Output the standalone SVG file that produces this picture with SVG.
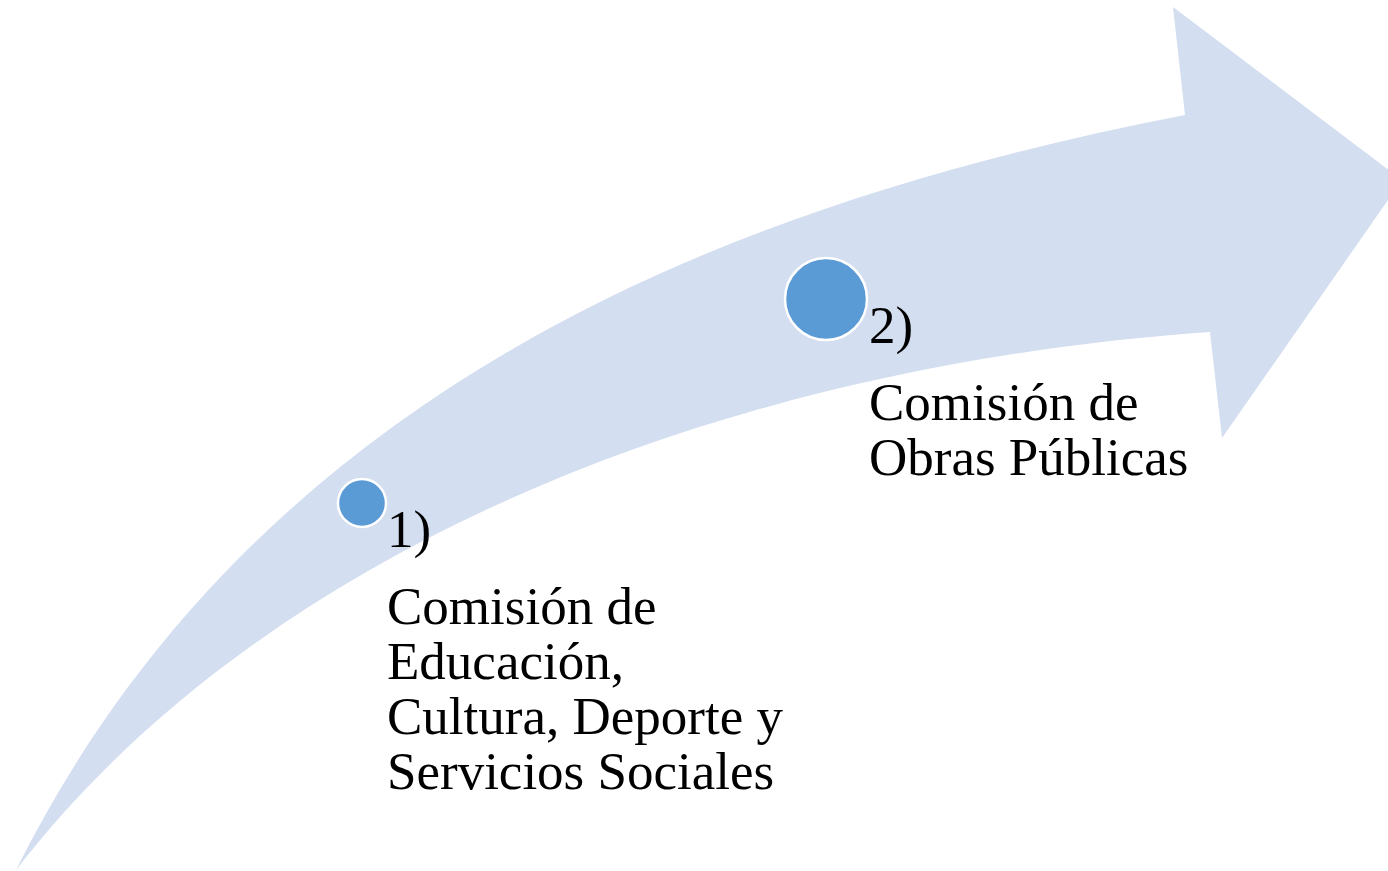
<svg xmlns="http://www.w3.org/2000/svg" width="1388" height="871" viewBox="0 0 1388 871">
<style>
.band{fill:#D3DEF0;stroke:none}
.dot{fill:#5B9BD5;stroke:#FFFFFF;stroke-width:2.5}
.lbl{font-family:"Liberation Serif","Times New Roman",serif;font-size:53px;fill:#000000}
</style>
<rect x="0" y="0" width="1388" height="871" fill="#FFFFFF"/>
<g id="arrow">
<path class="band" d="M16,870 C253,396 713.6,206.2 1185,115 L1173,7 L1402,180 L1222,438 L1210,332 C711,367 260,554 16,870 Z"/>
</g>
<g id="node1">
<circle class="dot" cx="362" cy="503" r="24"/>
<text class="lbl" x="387" y="547">1)</text>
<text class="lbl" x="387" y="624">Comisión de</text>
<text class="lbl" x="387" y="679">Educación,</text>
<text class="lbl" x="387" y="734">Cultura, Deporte y</text>
<text class="lbl" x="387" y="789">Servicios Sociales</text>
</g>
<g id="node2">
<circle class="dot" cx="826" cy="299" r="41"/>
<text class="lbl" x="869" y="343">2)</text>
<text class="lbl" x="869" y="420">Comisión de</text>
<text class="lbl" x="869" y="475">Obras Públicas</text>
</g>
<g id="connectors"></g>
</svg>
